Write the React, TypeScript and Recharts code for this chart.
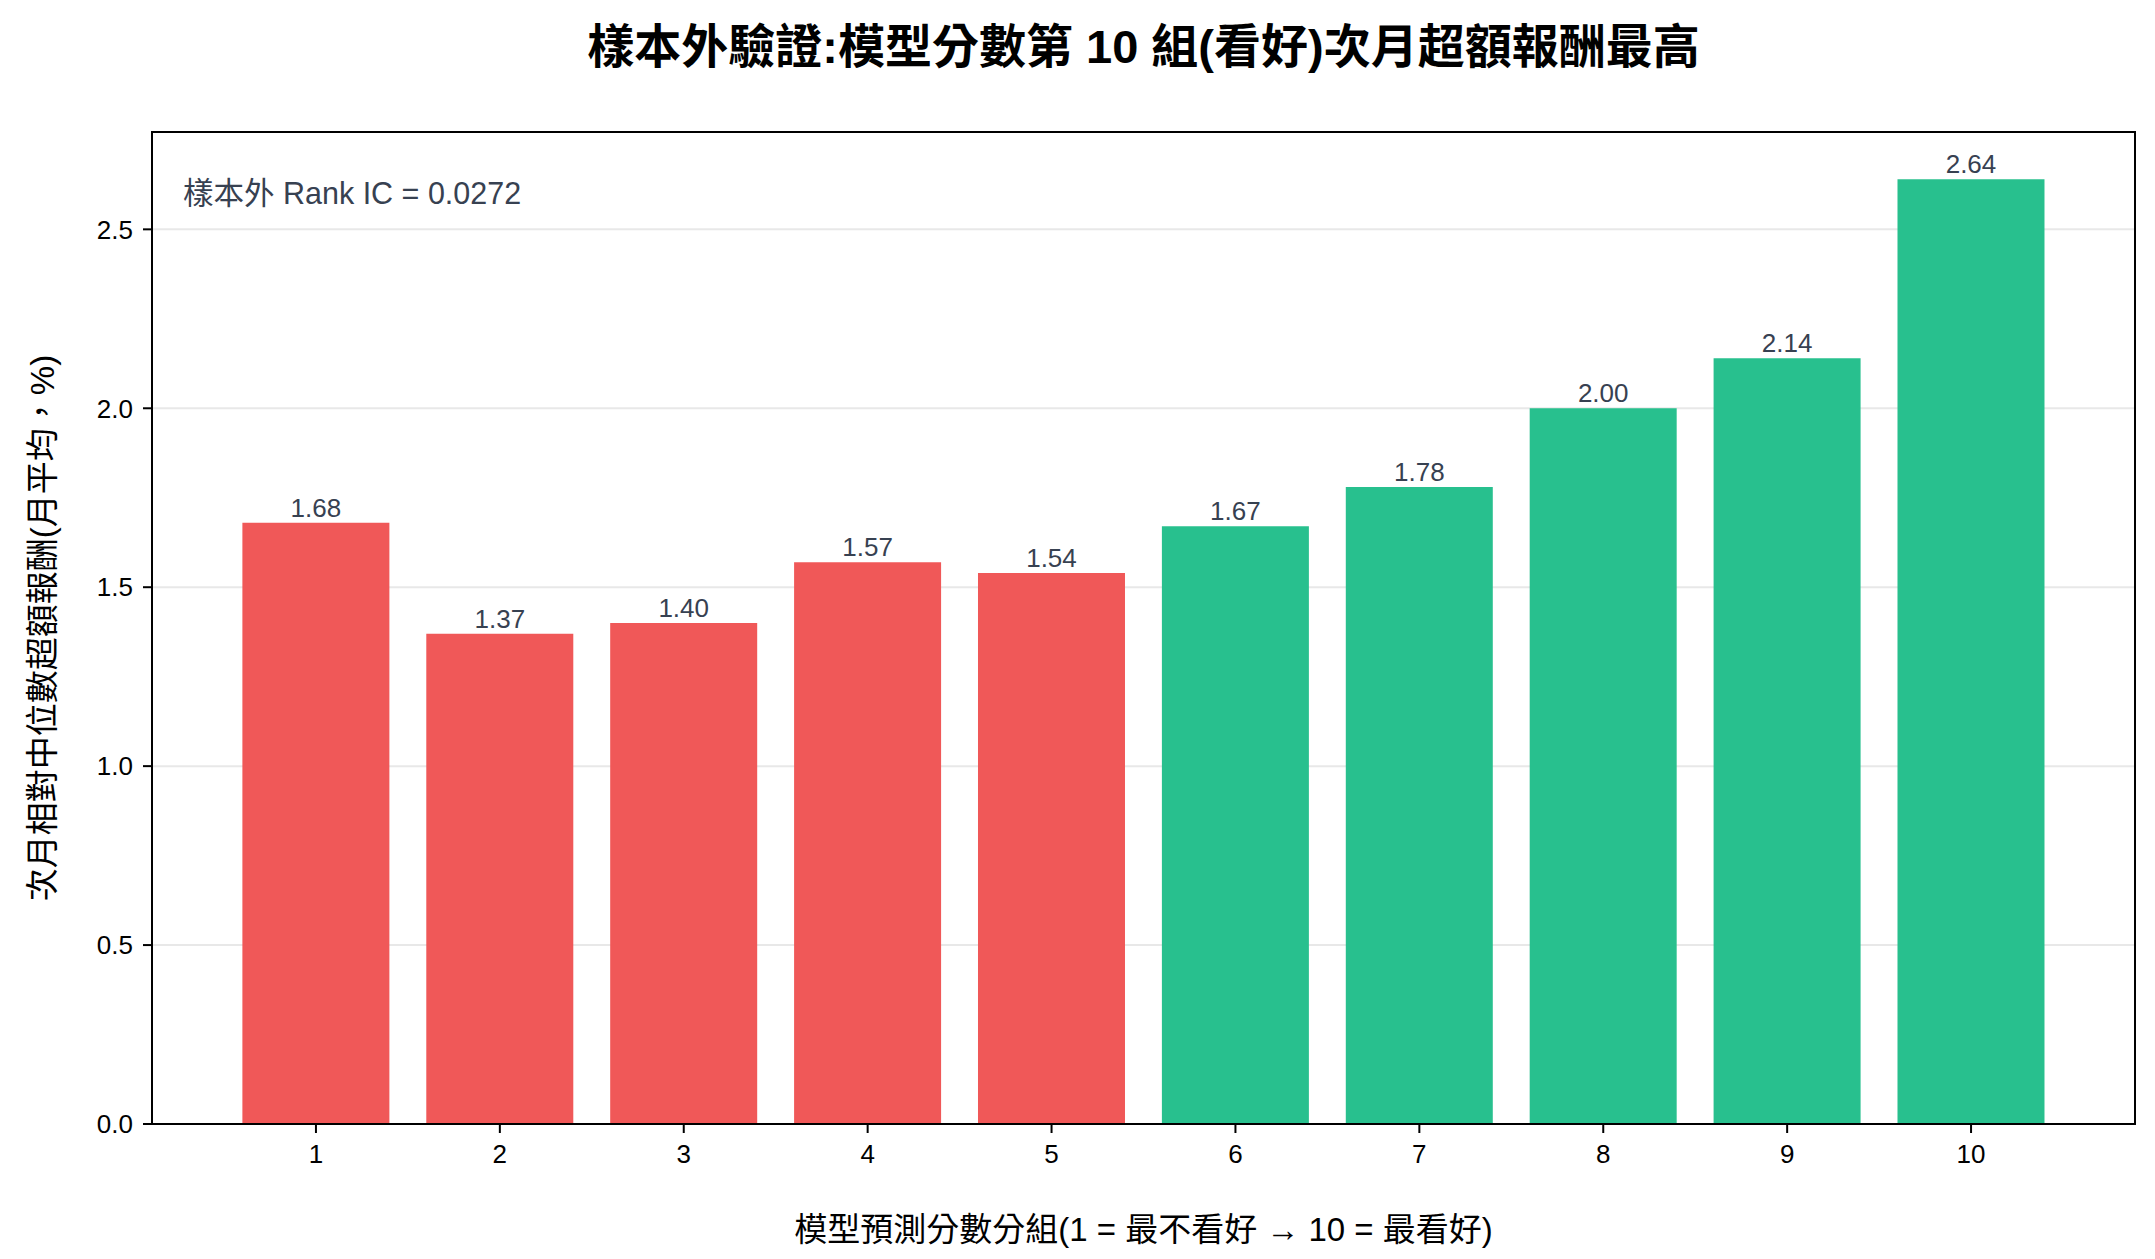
import React from 'react';
import { BarChart, Bar, XAxis, YAxis, CartesianGrid, Cell, LabelList } from 'recharts';

const groups = ['1', '2', '3', '4', '5', '6', '7', '8', '9', '10'];
const excessReturns = [1.68, 1.37, 1.4, 1.57, 1.54, 1.67, 1.78, 2.0, 2.14, 2.64];
const yTicks = [0, 0.5, 1.0, 1.5, 2.0, 2.5];

const TITLE = '樣本外驗證:模型分數第 10 組(看好)次月超額報酬最高';
const X_LABEL = '模型預測分數分組(1 = 最不看好 → 10 = 最看好)';
const Y_LABEL = '次月相對中位數超額報酬(月平均，%)';
const IC_NOTE = '樣本外 Rank IC = 0.0272';

const WIDTH = 2155;
const HEIGHT = 1259;
const PLOT_LEFT = 152;
const PLOT_TOP = 132;
const PLOT_RIGHT = 2135;
const PLOT_BOTTOM = 1124;
const Y_AXIS_W = 110;
const X_AXIS_H = 70;

const RED = '#f05858';
const GREEN = '#28c08e';
const FONT = '"Liberation Sans", Arial, "Noto Sans CJK TC", sans-serif';

const data = groups.map((group, i) => ({ group, value: excessReturns[i] }));

const App: React.FC = () => {
  const yMax = Math.max(...excessReturns) * 1.05;
  const plotCenterX = (PLOT_LEFT + PLOT_RIGHT) / 2;
  const plotCenterY = (PLOT_TOP + PLOT_BOTTOM) / 2;

  return (
    <div style={{ position: 'relative', width: WIDTH, height: HEIGHT, background: '#fff', fontFamily: FONT }}>
      <style>{'body { margin: 0; }'}</style>

      <div
        style={{
          position: 'absolute',
          left: plotCenterX,
          top: 42,
          transform: 'translate(-50%, -50%)',
          fontSize: 47,
          fontWeight: 700,
          color: '#000',
          whiteSpace: 'nowrap',
        }}
      >
        {TITLE}
      </div>

      <BarChart
        width={WIDTH}
        height={HEIGHT}
        data={data}
        margin={{
          top: PLOT_TOP,
          right: WIDTH - PLOT_RIGHT,
          bottom: HEIGHT - PLOT_BOTTOM - X_AXIS_H,
          left: PLOT_LEFT - Y_AXIS_W,
        }}
        barCategoryGap="10%"
        style={{ position: 'absolute', left: 0, top: 0, fontFamily: FONT }}
      >
        <CartesianGrid vertical={false} stroke="#e8e8e8" strokeWidth={2} />
        <XAxis
          dataKey="group"
          height={X_AXIS_H}
          padding={{ left: 72, right: 72 }}
          axisLine={false}
          tickLine={{ stroke: '#000', strokeWidth: 2 }}
          tickSize={9}
          tickMargin={12}
          tick={{ fill: '#000', fontSize: 26 }}
        />
        <YAxis
          width={Y_AXIS_W}
          domain={[0, yMax]}
          ticks={yTicks}
          allowDataOverflow
          axisLine={false}
          tickLine={{ stroke: '#000', strokeWidth: 2 }}
          tickSize={9}
          tickMargin={10}
          tick={{ fill: '#000', fontSize: 26 }}
          tickFormatter={(v: number) => v.toFixed(1)}
        />
        <Bar dataKey="value" isAnimationActive={false}>
          {data.map((d) => (
            <Cell key={d.group} fill={Number(d.group) <= 5 ? RED : GREEN} />
          ))}
          <LabelList
            dataKey="value"
            position="top"
            offset={6}
            fill="#374151"
            fontSize={26}
            formatter={(v: number) => v.toFixed(2)}
          />
        </Bar>
      </BarChart>

      <div
        style={{
          position: 'absolute',
          left: PLOT_LEFT - 1,
          top: PLOT_TOP - 1,
          width: PLOT_RIGHT - PLOT_LEFT + 2,
          height: PLOT_BOTTOM - PLOT_TOP + 2,
          border: '2px solid #000',
          boxSizing: 'border-box',
          pointerEvents: 'none',
        }}
      />

      <div
        style={{
          position: 'absolute',
          left: 183,
          top: 191,
          transform: 'translateY(-50%)',
          fontSize: 30.5,
          color: '#374151',
          whiteSpace: 'nowrap',
        }}
      >
        {IC_NOTE}
      </div>

      <div
        style={{
          position: 'absolute',
          left: plotCenterX,
          top: 1227,
          transform: 'translate(-50%, -50%)',
          fontSize: 33,
          color: '#000',
          whiteSpace: 'nowrap',
        }}
      >
        {X_LABEL}
      </div>

      <div
        style={{
          position: 'absolute',
          left: 40,
          top: plotCenterY,
          transform: 'translate(-50%, -50%) rotate(-90deg)',
          fontSize: 33,
          color: '#000',
          whiteSpace: 'nowrap',
        }}
      >
        {Y_LABEL}
      </div>
    </div>
  );
};

export default App;
